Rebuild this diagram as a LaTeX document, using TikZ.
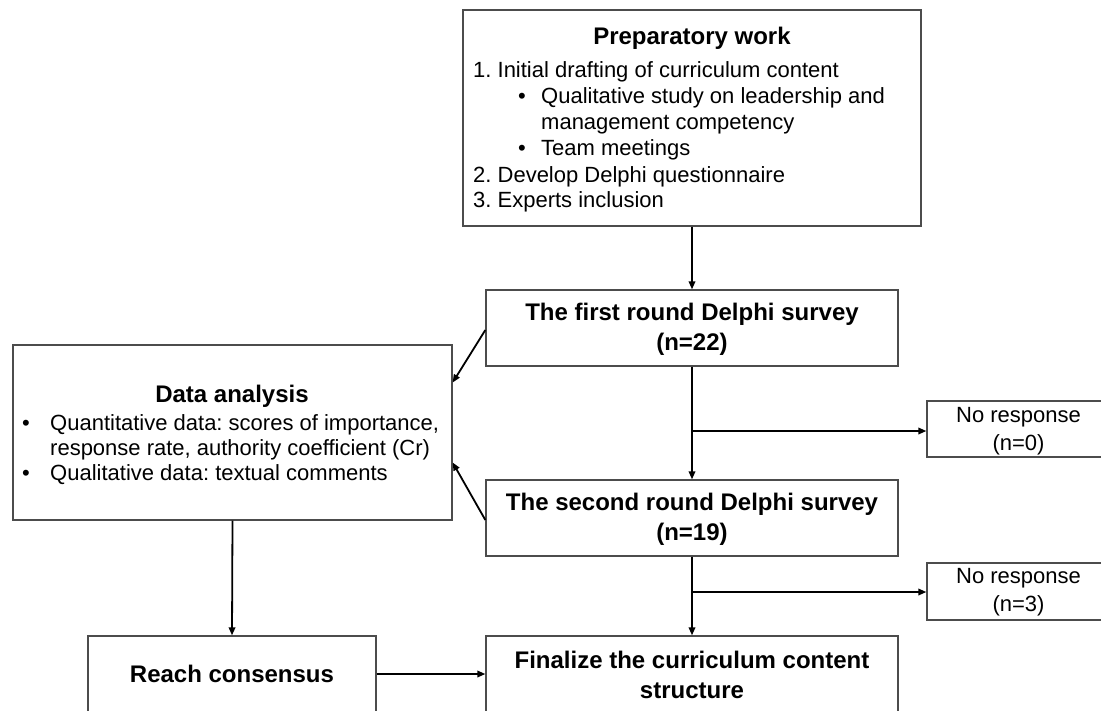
\documentclass[tikz,border=0pt]{standalone}
\usepackage{fontspec}
\setmainfont{Liberation Sans}
\usetikzlibrary{arrows.meta}
\frenchspacing
\newcommand\fsreg{\fontsize{22}{28}\selectfont}
\newcommand\fsbold{\fontsize{24}{30}\selectfont\bfseries}
\tikzset{
  box/.style={draw=black!70, line width=1.3pt, inner sep=0pt, fill=white},
  arr/.style={line width=1.8pt, draw=black, -{Triangle[length=8pt,width=6.5pt]}},
  ln/.style={anchor=west, inner sep=0pt, text height=16pt, text depth=5pt, font=\fsreg},
  ttl/.style={inner sep=0pt, font=\fsbold, align=center},
  small/.style={inner sep=0pt, font=\fsreg, align=center},
}
\begin{document}
\begin{tikzpicture}[x=1pt,y=-1pt]
\useasboundingbox (0,0) rectangle (1101,710);
\clip (0,0) rectangle (1101,710);
\fill[white] (0,0) rectangle (1101,710);

% boxes
\node[box, minimum width=458pt, minimum height=216pt] (prep) at (692,118) {};
\node[box, minimum width=412pt, minimum height=76pt] (first) at (692,328) {};
\node[box, minimum width=412pt, minimum height=76pt] (second) at (692,518) {};
\node[box, minimum width=200pt, minimum height=56pt] (nr1) at (1027,429) {};
\node[box, minimum width=200pt, minimum height=57pt] (nr2) at (1027,591.5) {};
\node[box, minimum width=439pt, minimum height=175pt] (data) at (232.5,432.5) {};
\node[box, minimum width=288pt, minimum height=76pt] (reach) at (232,674) {};
\node[box, minimum width=412pt, minimum height=76pt] (final) at (692,674) {};

% preparatory work text
\node[ttl] (prepT) at (692,38) {Preparatory work};
\node[ln] (p1) at (473,72) {1. Initial drafting of curriculum content};
\node[ln] (pb1) at (518,98) {\textbullet};
\node[ln] (p2) at (541,98) {Qualitative study on leadership and};
\node[ln] (p3) at (541,124) {management competency};
\node[ln] (pb2) at (518,150) {\textbullet};
\node[ln] (p4) at (541,150) {Team meetings};
\node[ln] (p5) at (473,177) {2. Develop Delphi questionnaire};
\node[ln] (p6) at (473,202) {3. Experts inclusion};

% rounds
\node[ttl] (firstT) at (692,329) {The first round Delphi survey\\(n=22)};
\node[ttl] (secondT) at (692,519) {The second round Delphi survey\\(n=19)};
\node[small] (nr1T) at (1018.5,431) {No response\\(n=0)};
\node[small] (nr2T) at (1018.5,592) {No response\\(n=3)};

% data analysis
\node[ttl] (dataT) at (232,396) {Data analysis};
\node[ln] (db1) at (22,425) {\textbullet};
\node[ln] (d1) at (50,425) {Quantitative data: scores of importance,};
\node[ln] (d2) at (50,450) {response rate, authority coefficient (Cr)};
\node[ln] (db2) at (22,475) {\textbullet};
\node[ln] (d3) at (50,475) {Qualitative data: textual comments};

% bottom
\node[ttl] (reachT) at (232,674) {Reach consensus};
\node[ttl] (finalT) at (692,675) {Finalize the curriculum content\\structure};

% connectors
\draw[arr] (prep.south) -- (first.north);
\draw[arr] (first.south) -- (second.north);
\draw[arr] (second.south) -- (final.north);
\coordinate (b1) at (692,431);
\coordinate (b2) at (692,592);
\draw[arr] (b1) -- (b1 -| nr1.west);
\draw[arr] (b2) -- (b2 -| nr2.west);
\draw[arr] ([yshift=-2pt]first.west) -- ([yshift=50pt]data.east);
\draw[arr] ([yshift=-2pt]second.west) -- ([yshift=-30pt]data.east);
\draw[arr] (data.south) -- (reach.north);
\draw[arr] (reach.east) -- (final.west);
\end{tikzpicture}
\end{document}
